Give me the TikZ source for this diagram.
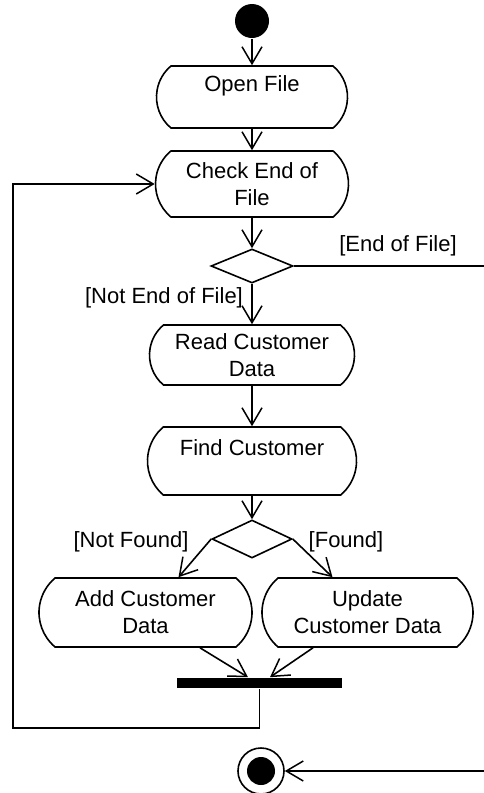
\documentclass[tikz,border=0pt]{standalone}
\usepackage{fontspec}
\setmainfont{Liberation Sans}
\usetikzlibrary{shapes.misc,shapes.geometric,arrows.meta,calc}
\begin{document}
\begin{tikzpicture}[x=1pt,y=-1pt,
  font=\fontsize{22}{27}\selectfont,
  every path/.style={line width=1.6pt},
  arr/.style={-{Straight Barb[length=17pt,width=20pt,line width=1.5pt]}},
  act/.style={draw,rounded rectangle,rounded rectangle arc length=100,align=center,inner sep=0pt,line width=1.6pt},
  dec/.style={draw,diamond,inner sep=0pt,line width=1.6pt},
  guard/.style={inner sep=0pt}]
\useasboundingbox (0,0) rectangle (484,793);
\node[circle,fill,minimum size=34pt,inner sep=0pt] (init) at (252,21) {};
\node[act,minimum width=191pt,minimum height=62pt] (open) at (252,97) {Open File\\\mbox{}};
\node[act,minimum width=193pt,minimum height=66pt] (check) at (252,184) {Check End of\\File};
\node[dec,minimum width=82pt,minimum height=34pt] (d1) at (252,266) {};
\node[guard] (eof) at (398,246) {[End of File]};
\node[guard] (neof) at (164,298) {[Not End of File]};
\node[act,minimum width=205pt,minimum height=60pt] (read) at (252,355) {Read Customer\\Data};
\node[act,minimum width=209pt,minimum height=68pt] (find) at (252,461) {Find Customer\\\mbox{}};
\node[dec,minimum width=80pt,minimum height=38pt] (d2) at (252,539) {};
\node[guard] (nf) at (131,542) {[Not Found]};
\node[guard] (fd) at (346,542) {[Found]};
\node[act,minimum width=213pt,minimum height=69pt] (add) at (145.5,612.5) {Add Customer\\Data};
\node[act,minimum width=211pt,minimum height=69pt] (upd) at (367.5,612.5) {Update\\Customer Data};
\node[fill,minimum width=165pt,minimum height=10pt,inner sep=0pt] (bar) at (259.5,683) {};
\node[circle,draw,minimum size=46pt,inner sep=0pt,line width=1.6pt] (final) at (261,771) {};
\node[circle,fill,minimum size=28pt,inner sep=0pt] (finalin) at (261,771) {};
\coordinate (lc) at (13,728);
\coordinate (edge) at (492,0);
\draw[arr] (init) -- (open.north);
\draw[arr] (open.south) -- (check.north);
\draw[arr] (check.south) -- (d1.north);
\draw[arr] (d1.south) -- (read.north);
\draw[arr] (read.south) -- (find.north);
\draw[arr] (find.south) -- (d2.north);
\draw[arr] (d2.west) -- ([xshift=33pt]add.north);
\draw[arr] (d2.east) -- ([xshift=-35pt]upd.north);
\draw[arr] ([xshift=54.5pt]add.south) -- ([xshift=-11.5pt]bar.north);
\draw[arr] ([xshift=-54.5pt]upd.south) -- ([xshift=10.5pt]bar.north);
\draw[arr] (bar.south) |- (lc) |- (check.west);
\draw[arr] (d1.east) -| (edge |- final) -- (final);
\end{tikzpicture}
\end{document}
